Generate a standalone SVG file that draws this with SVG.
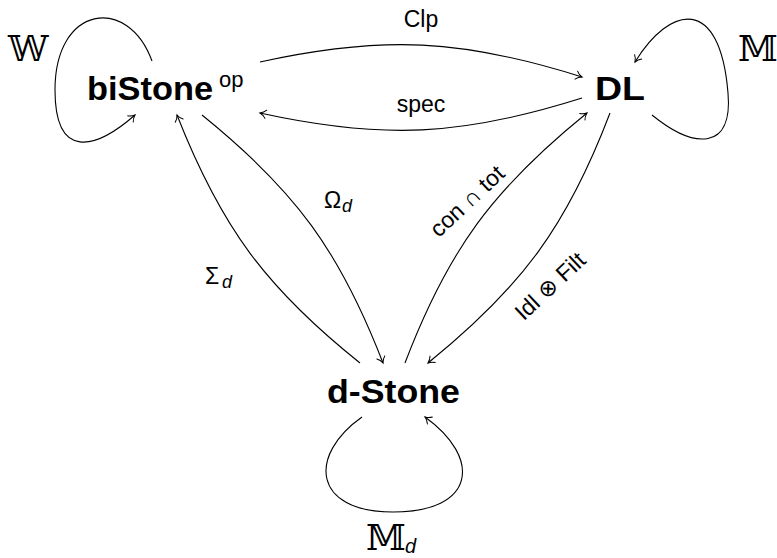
<svg xmlns="http://www.w3.org/2000/svg" width="777" height="558" viewBox="0 0 777 558">
<style>
  .node { font-family: "Liberation Sans", Arial, sans-serif; font-weight: bold; font-size: 34px; fill: #000; }
  .sup { font-family: "Liberation Sans", Arial, sans-serif; font-weight: normal; font-size: 22px; fill: #000; }
  .lbl { font-family: "Liberation Sans", "DejaVu Sans", sans-serif; font-size: 23px; fill: #000; }
  .math { font-family: "Liberation Sans", "DejaVu Sans", sans-serif; font-size: 23px; fill: #000; }
  .sub { font-family: "Liberation Sans", "DejaVu Sans", sans-serif; font-style: italic; font-size: 18px; fill: #000; }
  .bb { font-family: "DejaVu Serif", "DejaVu Sans", serif; font-size: 36px; fill: #000; }
  .edge { fill: none; stroke: #000; stroke-width: 1.1; marker-end: url(#to); }
</style>
<defs>
  <marker id="to" markerUnits="userSpaceOnUse" markerWidth="14" markerHeight="14" viewBox="-8 -7 10 14" refX="0" refY="0" orient="auto">
    <path d="M -6 -4.2 C -4 -1.6, -1.2 -0.4, 0 0 C -1.2 0.4, -4 1.6, -6 4.2" fill="none" stroke="#000" stroke-width="1" stroke-linecap="round"/>
  </marker>
</defs>
<rect width="777" height="558" fill="#fff"/>

<g id="node-bistone">
  <text class="node" x="87" y="100" textLength="126" lengthAdjust="spacingAndGlyphs">biStone</text>
  <text class="sup" x="219" y="87">op</text>
</g>
<g id="node-dl">
  <text class="node" x="595" y="100" textLength="50" lengthAdjust="spacingAndGlyphs">DL</text>
</g>
<g id="node-dstone">
  <text class="node" x="327" y="403" textLength="133" lengthAdjust="spacingAndGlyphs">d-Stone</text>
</g>

<g id="connectors">
  <!-- Clp -->
  <path class="edge" d="M 260 62 C 383 35, 462 39, 582 77"/>
  <!-- spec -->
  <path class="edge" d="M 582 98 C 462 136, 383 140, 260 113"/>
  <!-- Sigma_d -->
  <path class="edge" d="M 360 363 C 266 288, 221 227, 177 115"/>
  <!-- Omega_d -->
  <path class="edge" d="M 202 115 C 295.5 190.5, 339.7 251, 383 363"/>
  <!-- con cap tot -->
  <path class="edge" d="M 405 363 C 448 250, 493 189, 587 113"/>
  <!-- Idl otimes Filt -->
  <path class="edge" d="M 610 113 C 567 226, 522 287, 428 363"/>
  <!-- W loop -->
  <path class="edge" d="M 152 61 C 128 -5, 55 5, 55 90 C 55 160, 95 150, 135 115"/>
  <!-- M loop -->
  <path class="edge" d="M 652 115 C 695 150, 733 150, 728 93 C 720 -5, 670 5, 635 62"/>
  <!-- M_d loop -->
  <path class="edge" d="M 362 417 C 308 455, 312 512, 393 512 C 476 512, 482 458, 425 417"/>

  <g id="labels">
    <text class="lbl" x="421" y="27" text-anchor="middle">Clp</text>
    <text class="lbl" x="421" y="112" text-anchor="middle">spec</text>
    <text class="math" x="324" y="208">Ω</text><text class="sub" x="342" y="212">d</text>
    <text class="math" x="205" y="284">Σ</text><text class="sub" x="222" y="288">d</text>
    <text class="lbl" transform="translate(467,201) rotate(-43)" text-anchor="middle" dominant-baseline="central">con ∩ tot</text>
    <text class="lbl" transform="translate(550,286) rotate(-43)" text-anchor="middle" dominant-baseline="central">Idl ⊗ Filt</text>
    <text class="bb" x="8" y="61">𝕎</text>
    <text class="bb" x="738" y="61">𝕄</text>
    <text class="bb" x="366" y="550">𝕄</text><text class="sub" x="405" y="553" style="font-size:20px">d</text>
  </g>
</g>
</svg>
